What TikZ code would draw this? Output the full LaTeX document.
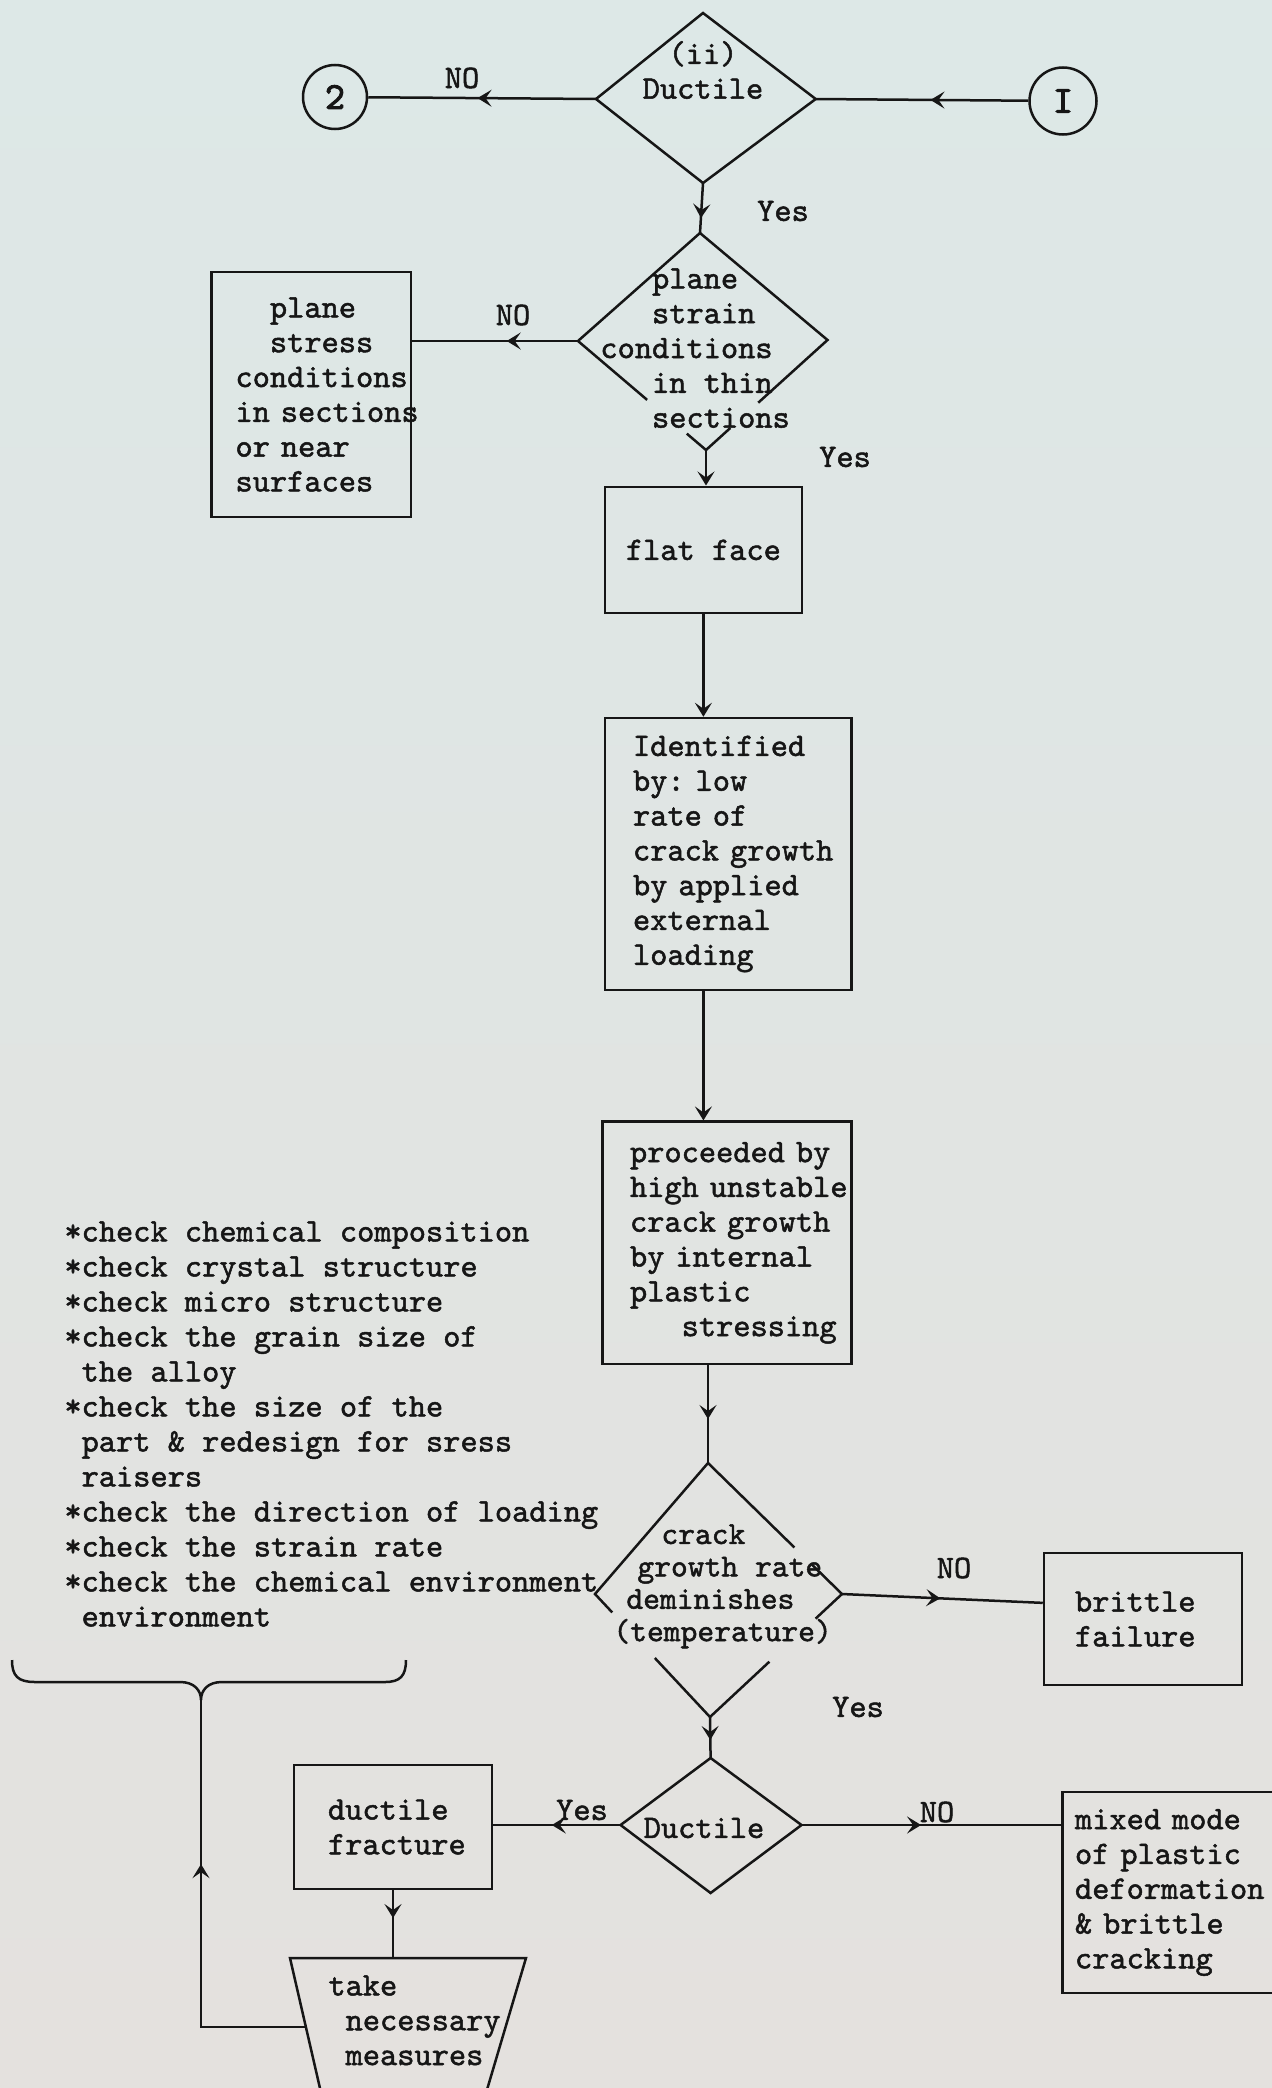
\documentclass[tikz,border=0pt]{standalone}
\usepackage{fontspec}
\newfontfamily\tw{lmmono10-regular.otf}[FakeBold=1.5]
\newfontfamily\twb{lmmono10-regular.otf}[FakeBold=2.6]
\usetikzlibrary{arrows.meta,decorations.markings,calc}

\definecolor{papertop}{RGB}{221,232,231}
\definecolor{paperbot}{RGB}{228,225,222}
\definecolor{ink}{RGB}{22,22,22}

% indent by a number of typewriter character cells
\newcommand\indt[1]{\hspace*{#1\dimexpr0.525em\relax}}

\begin{document}
\begin{tikzpicture}[x=0.5pt,y=-0.5pt,
  every node/.style={font=\tw\fontsize{16.4}{17.4}\selectfont, text=ink, inner sep=0pt,
    execute at begin node={\hyphenpenalty=10000 \exhyphenpenalty=10000 }},
  ln/.style={draw=ink, line width=1.25pt, line join=miter},
  >={Stealth[length=7pt,width=8.5pt,inset=3pt]},
  midarr/.style={postaction={decorate,decoration={markings,
      mark=at position #1 with {\arrow{>}}}}},
  tbox/.style n args={3}{ln, rectangle, minimum width=#1, minimum height=#2,
      text width=#3, align=left},
  circ/.style={ln, circle, minimum size=#1, font=\twb\fontsize{19}{20}\selectfont},
  lbl/.style={},
]
\useasboundingbox (0,0) rectangle (1272,2088);
\clip (0,0) rectangle (1272,2088);
\shade[top color=papertop, bottom color=paperbot] (0,0) rectangle (1272,2088);

% ---------- decision (ii): ductile ----------
\coordinate (d1n) at (703,13);
\coordinate (d1w) at (596,99);
\coordinate (d1e) at (815.7,99);
\coordinate (d1s) at (703,183);
\draw[ln] (d1n) -- (d1e) -- (d1s) -- (d1w) -- cycle;
\node[align=center] (d1t) at (703,70) {(ii)\\Ductile};

\node[circ=32pt] (c2) at (335,97) {2};
\node[circ=33.5pt] (c1) at (1063,101) {I};

% ---------- decision: plane strain ----------
\coordinate (d2n) at (700,233);
\coordinate (d2w) at (578,341);
\coordinate (d2e) at (827.5,340);
\coordinate (d2s) at (706,450);
\draw[ln] ($(d2w)!0.54!(d2s)$) -- (d2w) -- (d2n) -- (d2e) -- ($(d2e)!0.57!(d2s)$);
\draw[ln] ($(d2w)!0.85!(d2s)$) -- (d2s) -- ($(d2e)!0.8!(d2s)$);
\node[anchor=north west, align=left] (d2t) at (600,268)
  {\indt3plane\\\indt3strain\\conditions\\\indt3in thin\\\indt3sections};

% ---------- boxes ----------
\node[tbox={99.65pt}{122.5pt}{75.8pt}] (ps) at (311.3,394.5)
  {\indt2plane\\\indt2stress\\conditions\\in~sections\\or~near\\surfaces};
\node[ln, rectangle, minimum width=98.35pt, minimum height=63.15pt] (ff) at (703.4,549.9) {flat face};
\node[tbox={123.35pt}{136pt}{95.35pt}] (id) at (728.35,854)
  {Identified\\by:~low\\rate~of\\crack~growth\\by~applied\\external\\loading};
\node[tbox={124.5pt}{121.15pt}{97.2pt}] (pr) at (727.2,1242.85)
  {proceeded~by\\high~unstable\\crack~growth\\by~internal\\plastic\\\indt3stressing};
\node[tbox={99pt}{66pt}{68pt}] (br) at (1143,1619) {brittle\\failure};
\node[tbox={99pt}{62pt}{65pt}] (df) at (393,1827) {ductile\\fracture};
\node[tbox={113.65pt}{100.5pt}{101.35pt}] (mm) at (1176.35,1892.5)
  {mixed~mode\\of~plastic\\deformation\\\&~brittle\\cracking};

% ---------- decision: crack growth rate ----------
\coordinate (d3n) at (708,1463);
\coordinate (d3w) at (595,1594);
\coordinate (d3e) at (842,1594);
\coordinate (d3s) at (710,1717);
\draw[ln] ($(d3w)!0.15!(d3s)$) -- (d3w) -- (d3n) -- ($(d3n)!0.645!(d3e)$);
\draw[ln] ($(d3n)!0.77!(d3e)$) -- (d3e) -- ($(d3e)!0.2!(d3s)$);
\draw[ln] ($(d3w)!0.52!(d3s)$) -- (d3s) -- ($(d3e)!0.55!(d3s)$);
\node[anchor=north west, align=left, font=\tw\fontsize{16}{16.2}\selectfont] (d3t) at (613,1524)
  {\hspace*{24pt}crack\\\hspace*{12pt}growth rate\\\hspace*{6.5pt}deminishes\\(temperature)};

% ---------- decision: ductile ----------
\coordinate (d4n) at (710.6,1758);
\coordinate (d4w) at (620.6,1825);
\coordinate (d4e) at (801.5,1825);
\coordinate (d4s) at (710.6,1893);
\draw[ln] (d4n) -- (d4e) -- (d4s) -- (d4w) -- cycle;
\node (d4t) at (704,1828) {Ductile};

% ---------- measures ----------
\coordinate (tma) at (290,1958);
\coordinate (tmb) at (526,1958);
\coordinate (tmc) at (481,2110);
\coordinate (tmd) at (325,2110);
\draw[ln] (tmd) -- (tma) -- (tmb) -- (tmc);
\node[anchor=north west, align=left] (tm) at (328,1975) {take\\\indt1necessary\\\indt1measures};

% ---------- check list and brace ----------
\node[anchor=north west, align=left, font=\tw\fontsize{16.4}{17.5}\selectfont] (chk) at (64,1221)
  {*check chemical composition\\
   *check crystal structure\\
   *check micro structure\\
   *check the grain size of\\
   \indt1the alloy\\
   *check the size of the\\
   \indt1part \& redesign for sress\\
   \indt1raisers\\
   *check the direction of loading\\
   *check the strain rate\\
   *check the chemical environment\\
   \indt1environment};
\coordinate (bt) at (201,1700);
\draw[ln] (12,1660) .. controls (12,1676) and (18,1682) .. (35,1682) -- (180,1682)
  .. controls (194,1682) and (201,1690) .. (bt)
  .. controls (201,1690) and (208,1682) .. (222,1682) -- (385,1682)
  .. controls (400,1682) and (406,1676) .. (406,1660);

% ---------- connectors ----------
\draw[ln, midarr=0.46] (c1) -- (d1e);
\draw[ln, midarr=0.52] (d1w) -- (c2);
\draw[ln, midarr=0.7] (d1s) -- (d2n);
\draw[ln, midarr=0.43] (d2w) -- (ps.east |- d2w);
\draw[ln, ->] (d2s) -- (d2s |- ff.north);
\draw[ln, ->] (ff.south) -- (ff.south |- id.north);
\draw[ln, ->] (ff.south |- id.south) -- (ff.south |- pr.north);
\draw[ln, midarr=0.55] (d3n |- pr.south) -- (d3n);
\draw[ln, midarr=0.49] (d3e) -- ($(br.north west)!0.38!(br.south west)$);
\draw[ln, midarr=0.56] (d3s) -- (d4n);
\draw[ln, midarr=0.54] (d4w) -- (df.east |- d4w);
\draw[ln, midarr=0.46] (d4e) -- (mm.west |- d4e);
\draw[ln, midarr=0.41] (df.south) -- (df.south |- tma);
\coordinate (tml) at ($(tma)!0.454!(tmd)$);
\draw[ln, midarr=0.62] (tml) -| (bt);

% ---------- branch labels ----------
\node[lbl] (no1) at (462,78) {NO};
\node[lbl] (yes1) at (783,211) {Yes};
\node[lbl] (no2) at (513,315) {NO};
\node[lbl] (yes2) at (845,457) {Yes};
\node[lbl] (no3) at (954,1568) {NO};
\node[lbl] (yes3) at (858,1707) {Yes};
\node[lbl] (yes4) at (582,1810) {Yes};
\node[lbl] (no4) at (937,1812) {NO};
\end{tikzpicture}
\end{document}
